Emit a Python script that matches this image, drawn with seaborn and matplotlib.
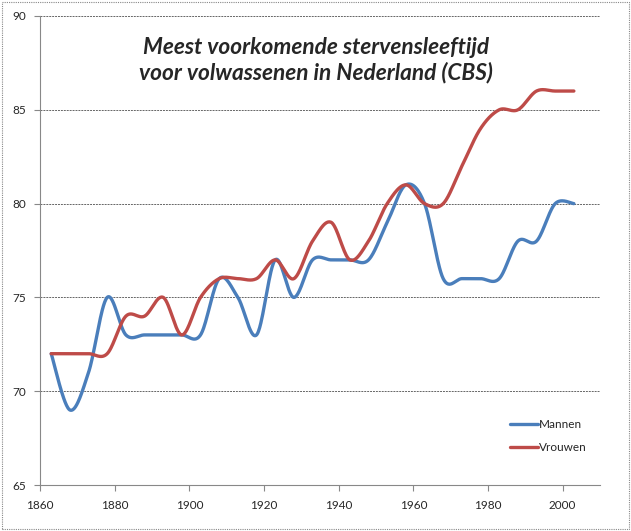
import numpy as np
import pandas as pd
import matplotlib
matplotlib.use('Agg')
import matplotlib.pyplot as plt
from matplotlib.patches import Rectangle
import seaborn as sns

# values (every 5 years)
years = [1863, 1868, 1873, 1878, 1883, 1888, 1893, 1898, 1903, 1908,
         1913, 1918, 1923, 1928, 1933, 1938, 1943, 1948, 1953, 1958,
         1963, 1968, 1973, 1978, 1983, 1988, 1993, 1998, 2003]
mannen = [72, 69, 71, 75, 73, 73, 73, 73, 73, 76,
          75, 73, 77, 75, 77, 77, 77, 77, 79, 81,
          80, 76, 76, 76, 76, 78, 78, 80, 80]
vrouwen = [72, 72, 72, 72, 74, 74, 75, 73, 75, 76,
           76, 76, 77, 76, 78, 79, 77, 78, 80, 81,
           80, 80, 82, 84, 85, 85, 86, 86, 86]
x_ticks = [1860, 1880, 1900, 1920, 1940, 1960, 1980, 2000]
y_ticks = [65, 70, 75, 80, 85, 90]
title = 'Meest voorkomende stervensleeftijd\nvoor volwassenen in Nederland (CBS)'


def smooth(x, y, n=30):
    # Catmull-Rom style smoothing like Excel's "smoothed line"
    x = np.asarray(x, float)
    y = np.asarray(y, float)
    px = np.concatenate([[x[0]], x, [x[-1]]])
    py = np.concatenate([[y[0]], y, [y[-1]]])
    xs, ys = [], []
    t = np.linspace(0, 1, n, endpoint=False)
    for i in range(1, len(px) - 2):
        p0, p1, p2, p3 = [np.array([px[j], py[j]]) for j in range(i - 1, i + 3)]
        c1 = p1 + (p2 - p0) / 6
        c2 = p2 - (p3 - p1) / 6
        pts = (((1 - t) ** 3)[:, None] * p1 + (3 * (1 - t) ** 2 * t)[:, None] * c1
               + (3 * (1 - t) * t ** 2)[:, None] * c2 + (t ** 3)[:, None] * p2)
        xs.extend(pts[:, 0])
        ys.extend(pts[:, 1])
    xs.append(x[-1])
    ys.append(y[-1])
    return np.array(xs), np.array(ys)


sns.set_style('white')
plt.rcParams['font.family'] = ['Lato', 'DejaVu Sans']

fig = plt.figure(figsize=(6.31, 5.31), dpi=100)
ax = fig.add_axes([40 / 631, 1 - 485 / 531, 560 / 631, 469 / 531])

blue = '#4a7ebb'
red = '#be4b48'
for vals, name, col in [(mannen, 'Mannen', blue), (vrouwen, 'Vrouwen', red)]:
    sx, sy = smooth(years, vals)
    df = pd.DataFrame({'jaar': sx, 'leeftijd': sy})
    sns.lineplot(data=df, x='jaar', y='leeftijd', sort=False, color=col,
                 linewidth=2.4, label=name, ax=ax)

ax.set_xlim(1860, 2010)
ax.set_ylim(65, 90)
ax.set_xticks(x_ticks)
ax.set_yticks(y_ticks)
ax.set_xlabel('')
ax.set_ylabel('')
ax.grid(axis='y', color='#666666', linestyle=(0, (2, 1)), linewidth=0.7)
ax.grid(axis='x', visible=False)
for side in ['top', 'right']:
    ax.spines[side].set_visible(False)
for side in ['left', 'bottom']:
    ax.spines[side].set_color('#888888')
    ax.spines[side].set_linewidth(0.8)
ax.tick_params(axis='x', direction='out', length=4, color='#888888',
               labelsize=8.5, pad=7)
ax.tick_params(axis='y', direction='out', length=4, color='#888888',
               labelsize=8.5, pad=6)
ax.tick_params(left=True, bottom=True)

ax.text(0.493, 0.905, title, transform=ax.transAxes, ha='center', va='center',
        fontsize=16.3, fontweight='bold', fontstyle='italic', linespacing=1.2)

leg = ax.legend(loc='lower right', bbox_to_anchor=(0.995, 0.045), frameon=False,
                fontsize=8.5, handlelength=2.3, handletextpad=0.1,
                labelspacing=1.0)

fig.patches.append(Rectangle((0.003, 0.004), 0.994, 0.992,
                             transform=fig.transFigure, fill=False,
                             edgecolor='#888888', linestyle=(0, (1, 1)),
                             linewidth=0.8))

fig.savefig('out.png', dpi=100)
